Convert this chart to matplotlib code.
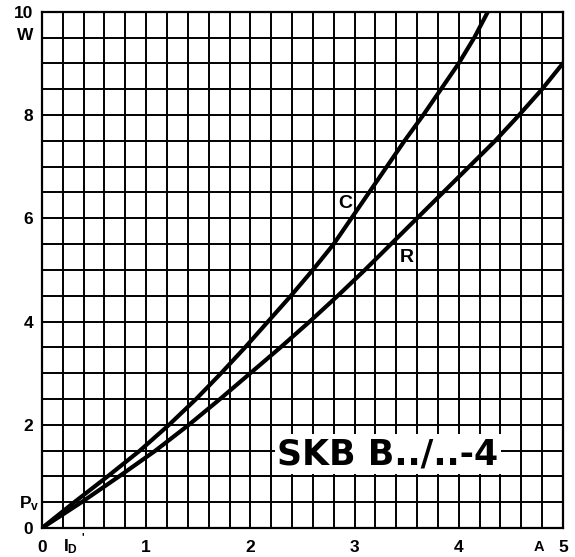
import numpy as np
import matplotlib
matplotlib.use("Agg")
import matplotlib.pyplot as plt

plt.rcParams['font.family'] = ['Liberation Sans', 'DejaVu Sans']
plt.rcParams['font.weight'] = 'bold'
plt.rcParams['mathtext.fontset'] = 'custom'
plt.rcParams['mathtext.rm'] = 'Liberation Sans:bold'
plt.rcParams['mathtext.it'] = 'Liberation Sans:bold'
plt.rcParams['mathtext.default'] = 'rm'

# curve C: current (A) read where the curve crosses each 0.5 W grid line
c_power = [0.0, 0.5, 1.0, 1.5, 2.0, 2.5, 3.0, 3.5, 4.0, 4.5, 5.0,
           5.5, 6.0, 6.5, 7.0, 7.5, 8.0, 8.5, 9.0, 9.5, 10.0]
c_current = [0.0, 0.31, 0.63, 0.94, 1.22, 1.48, 1.72, 1.95, 2.17, 2.39, 2.60,
             2.80, 2.97, 3.14, 3.31, 3.48, 3.66, 3.83, 4.0, 4.15, 4.28]

# curve R
r_power = [0.0, 0.5, 1.0, 1.5, 2.0, 2.5, 3.0, 3.5, 4.0, 4.5,
           5.0, 5.5, 6.0, 6.5, 7.0, 7.5, 8.0, 8.5, 9.0]
r_current = [0.0, 0.38, 0.74, 1.09, 1.41, 1.71, 2.0, 2.29, 2.57, 2.84,
             3.10, 3.35, 3.60, 3.85, 4.10, 4.35, 4.58, 4.80, 5.0]

x_ticks = [0, 1, 2, 3, 4, 5]
y_ticks = [0, 2, 4, 6, 8, 10]

fig = plt.figure(figsize=(5.75, 5.57), dpi=100)
ax = fig.add_axes([0.073, 0.052, 0.906, 0.927])

ax.set_xlim(0, 5)
ax.set_ylim(0, 10)
ax.set_xticks(x_ticks)
ax.set_xticklabels([str(t) for t in x_ticks])
ax.set_yticks(y_ticks)
ax.set_yticklabels([str(t) for t in y_ticks])
ax.set_xticks(np.arange(0, 5.01, 0.2), minor=True)
ax.set_yticks(np.arange(0, 10.01, 0.5), minor=True)
ax.grid(True, which='both', color='black', linewidth=1.4)
ax.tick_params(which='both', length=0, labelsize=12.5)
ax.tick_params(axis='x', pad=8.5)
ax.tick_params(axis='y', pad=6.5)
for s in ax.spines.values():
    s.set_linewidth(1.6)

ax.plot(c_current, c_power, color='black', linewidth=3, solid_joinstyle='round')
ax.plot(r_current, r_power, color='black', linewidth=3, solid_joinstyle='round')

ax.text(2.91, 6.29, 'C', fontsize=14, fontweight='bold', ha='center', va='center')
ax.text(3.50, 5.24, 'R', fontsize=14, fontweight='bold', ha='center', va='center')

ax.text(3.32, 1.5, 'SKB B../..-4', family='DejaVu Sans', fontsize=25, fontweight='heavy',
        ha='center', va='center_baseline',
        bbox=dict(facecolor='white', edgecolor='none', pad=2))

# extra axis annotations
ax.text(-0.085, 9.54, 'W', fontsize=12.5, ha='right', va='center')
ax.text(-0.02, 0.48, '$P_v$', fontsize=12.5, ha='right', va='center')
ax.text(0.2, -0.36, '$I_D$', fontsize=12.5, ha='left', va='center')
ax.text(0.38, -0.18, "'", fontsize=8, ha='left', va='center')
ax.text(4.77, -0.36, 'A', fontsize=10.5, ha='center', va='center')

fig.savefig('out.png', dpi=100, facecolor='white')
